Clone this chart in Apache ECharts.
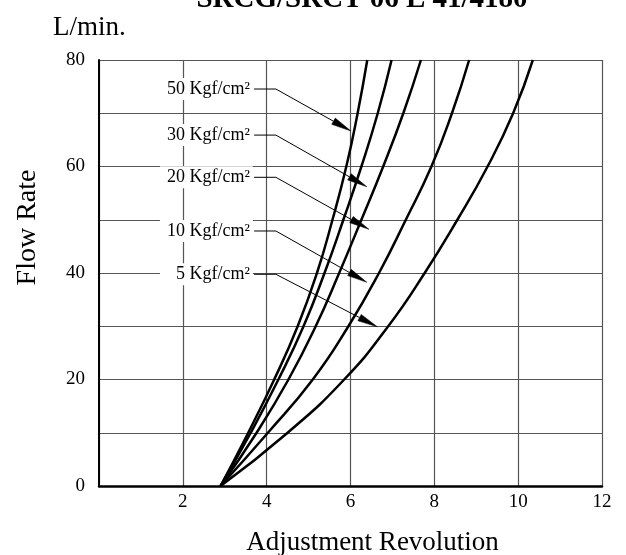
<!DOCTYPE html>
<html>
<head>
<meta charset="utf-8">
<script src="https://cdn.jsdelivr.net/npm/echarts@6/dist/echarts.min.js"></script>
<style>
html,body{margin:0;padding:0;background:#fff;}
#chart{width:626px;height:555px;}
</style>
</head>
<body>
<div id="chart"></div>
<script>
// ---- data ----
const flowRate = [0, 10, 20, 30, 40, 50, 60, 70, 80];           // L/min (y)
const rev50 = [2.9, 3.56, 4.18, 4.74, 5.20, 5.57, 5.90, 6.17, 6.40];
const rev30 = [2.9, 3.62, 4.28, 4.88, 5.38, 5.83, 6.26, 6.65, 6.98];
const rev20 = [2.9, 3.76, 4.52, 5.17, 5.73, 6.26, 6.78, 7.26, 7.68];
const rev10 = [2.9, 4.03, 5.10, 5.95, 6.68, 7.32, 7.93, 8.42, 8.83];
const rev5  = [2.9, 4.50, 5.85, 6.90, 7.77, 8.55, 9.27, 9.88, 10.35];

const pressureLabels = ['50 Kgf/cm²', '30 Kgf/cm²', '20 Kgf/cm²', '10 Kgf/cm²', '5 Kgf/cm²'];
const labelFlow = [74.55, 65.9, 57.97, 47.89, 39.76];
const arrowTipRev = [6.01, 6.39, 6.44, 6.39, 6.64];
const arrowTipFlow = [66.67, 56.2, 48.2, 38.25, 29.9];
const labelTextRev = 3.60;
const leaderStartRev = 3.70;
const leaderBendRev = 4.22;

const titleText = 'SRCG/SRCT 06 L 41/4180';
const unitText = 'L/min.';
const yName = 'Flow Rate';
const xName = 'Adjustment Revolution';

const serif = "'Liberation Serif', 'Times New Roman', serif";

function mk(rev) { return flowRate.map((f, i) => [rev[i], f]); }

const curveStyle = { color: '#000', width: 2.5 };
function lineSeries(name, rev) {
  return {
    name: name, type: 'line', data: mk(rev), smooth: 0.5,
    showSymbol: false, symbol: 'none',
    lineStyle: curveStyle, itemStyle: { color: '#000' },
    z: 3, silent: true, animation: false
  };
}

function renderAnno(params, api) {
  const i = params.dataIndex;
  const tip = api.coord([api.value(0), api.value(1)]);
  const ly = api.value(2);
  const tp = api.coord([labelTextRev, ly]);
  const st = api.coord([leaderStartRev, ly]);
  const bd = api.coord([leaderBendRev, ly]);
  const dx = tip[0] - bd[0], dy = tip[1] - bd[1];
  const len = Math.hypot(dx, dy);
  const ux = dx / len, uy = dy / len;
  const hl = 20, hw = 3.6;
  const bx = tip[0] - ux * hl, by = tip[1] - uy * hl;
  return {
    type: 'group',
    children: [
      { type: 'rect', shape: { x: tp[0] - 90, y: tp[1] - 11, width: 93, height: 22 },
        style: { fill: '#fff' } },
      { type: 'text', x: tp[0], y: tp[1],
        style: { text: pressureLabels[i], fill: '#000', font: '18px ' + serif,
                 align: 'right', verticalAlign: 'middle', textAlign: 'right', textVerticalAlign: 'middle' } },
      { type: 'polyline', shape: { points: [st, bd, [bx, by]] },
        style: { stroke: '#000', lineWidth: 1, fill: null } },
      { type: 'polygon', shape: { points: [tip, [bx - uy * hw, by + ux * hw], [bx + uy * hw, by - ux * hw]] },
        style: { fill: '#000', stroke: '#000', lineWidth: 0.5 } }
    ]
  };
}

const chart = echarts.init(document.getElementById('chart'), null, { renderer: 'canvas' });
chart.setOption({
  animation: false,
  backgroundColor: '#fff',
  grid: { left: 99, right: 24, top: 60, bottom: 69, containLabel: false },
  xAxis: {
    type: 'value', min: 0, max: 12, interval: 2,
    axisLine: { show: true, lineStyle: { color: '#000', width: 2.5 } },
    axisTick: { show: false },
    axisLabel: { showMinLabel: false, margin: 7, color: '#000', fontSize: 19, fontFamily: serif },
    splitLine: { show: true, lineStyle: { color: '#555', width: 1.2 } }
  },
  yAxis: {
    type: 'value', min: 0, max: 80, interval: 10,
    axisLine: { show: true, lineStyle: { color: '#000', width: 2 } },
    axisTick: { show: false },
    axisLabel: {
      margin: 14, color: '#000', fontSize: 19, fontFamily: serif,
      formatter: function (v) { return v % 20 === 0 ? String(v) : ''; }
    },
    splitLine: { show: true, lineStyle: { color: '#555', width: 1.2 } }
  },
  graphic: [
    { type: 'text', x: 362, y: 0, z: 10,
      style: { text: titleText, font: 'bold 29px ' + serif, fill: '#000',
               textAlign: 'center', textVerticalAlign: 'middle', align: 'center', verticalAlign: 'middle' } },
    { type: 'text', x: 53, y: 27.5, z: 10,
      style: { text: unitText, font: '27px ' + serif, fill: '#000',
               textAlign: 'left', textVerticalAlign: 'middle', align: 'left', verticalAlign: 'middle' } },
    { type: 'text', x: 28, y: 227.5, rotation: Math.PI / 2, z: 10,
      style: { text: yName, font: '28px ' + serif, fill: '#000',
               textAlign: 'center', textVerticalAlign: 'middle', align: 'center', verticalAlign: 'middle' } },
    { type: 'text', x: 372.5, y: 543, z: 10,
      style: { text: xName, font: '27px ' + serif, fill: '#000',
               textAlign: 'center', textVerticalAlign: 'middle', align: 'center', verticalAlign: 'middle' } }
  ],
  series: [
    lineSeries('50 Kgf/cm²', rev50),
    lineSeries('30 Kgf/cm²', rev30),
    lineSeries('20 Kgf/cm²', rev20),
    lineSeries('10 Kgf/cm²', rev10),
    lineSeries('5 Kgf/cm²', rev5),
    {
      type: 'custom', coordinateSystem: 'cartesian2d', renderItem: renderAnno,
      data: labelFlow.map((f, i) => [arrowTipRev[i], arrowTipFlow[i], f]),
      encode: { x: 0, y: 1 }, z: 5, silent: true, clip: false
    }
  ]
});
</script>
</body>
</html>
